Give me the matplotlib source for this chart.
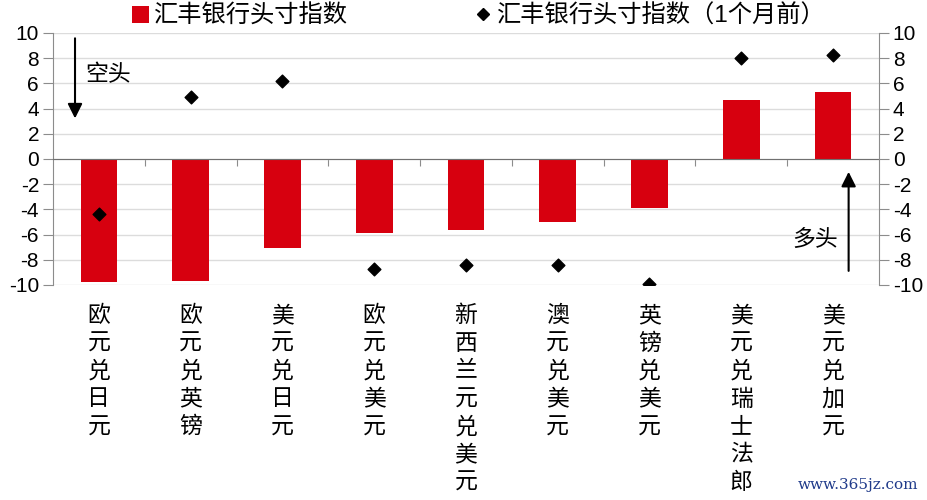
import matplotlib
matplotlib.use("Agg")
import matplotlib.pyplot as plt
from matplotlib.lines import Line2D
from matplotlib.patches import Patch

plt.rcParams['font.family'] = ['Liberation Sans', 'Noto Sans CJK SC', 'DejaVu Sans']

# data
pairs = ['欧元兑日元', '欧元兑英镑', '美元兑日元', '欧元兑美元', '新西兰元兑美元',
         '澳元兑美元', '英镑兑美元', '美元兑瑞士法郎', '美元兑加元']
index_now = [-9.8, -9.7, -7.1, -5.9, -5.6, -5.0, -3.9, 4.7, 5.3]
index_1m = [-4.4, 4.9, 6.2, -8.7, -8.4, -8.4, -9.9, 8.0, 8.25]
yticks = list(range(-10, 11, 2))

red = '#D7000F'
grey = '#8c8c8c'

fig = plt.figure(figsize=(9.28, 5.0), dpi=100)
ax = fig.add_axes([0.0571, 0.43, 0.89, 0.504])

x = list(range(len(pairs)))
ax.bar(x, index_now, width=0.4, color=red, zorder=2)
ax.scatter(x, index_1m, marker='D', s=42, color='black', zorder=3)

ax.set_xlim(-0.5, len(pairs) - 0.5)
ax.set_ylim(-10, 10)
ax.set_yticks(yticks)
ax.set_yticklabels([str(v) for v in yticks], fontsize=15)
ax.grid(axis='y', color='#dcdcdc', linewidth=1.0, zorder=0)
ax.set_axisbelow(True)

for s in ['top', 'right']:
    ax.spines[s].set_visible(False)
ax.spines['left'].set_color(grey)
ax.spines['bottom'].set_position(('data', 0))
ax.spines['bottom'].set_color('#707070')
ax.spines['bottom'].set_zorder(2.5)
ax.tick_params(axis='y', colors=grey, length=7, pad=3, labelcolor='black')
ax.set_xticks([k + 0.5 for k in x[:-1]])
ax.set_xticklabels([])
ax.tick_params(axis='x', colors=grey, length=5, direction='out')

ax2 = ax.twinx()
ax2.set_ylim(-10, 10)
ax2.set_yticks(yticks)
ax2.set_yticklabels([str(v) for v in yticks], fontsize=15)
for s in ['top', 'left', 'bottom']:
    ax2.spines[s].set_visible(False)
ax2.spines['right'].set_color(grey)
ax2.tick_params(axis='y', colors=grey, length=7, pad=3, labelcolor='black')

# vertical category labels
for k, name in enumerate(pairs):
    ax.text(k, -0.075, '\n'.join(name), transform=ax.get_xaxis_transform(),
            ha='center', va='top', fontsize=16.5, linespacing=1.27)

# arrows
ax.annotate('', xy=(-0.26, 3.0), xytext=(-0.26, 9.8),
            arrowprops=dict(arrowstyle='-|>', color='black', lw=1.5, mutation_scale=22))
ax.text(-0.15, 6.7, '空头', fontsize=16.5, va='center', ha='left')
ax.annotate('', xy=(8.17, -0.8), xytext=(8.17, -9.1),
            arrowprops=dict(arrowstyle='-|>', color='black', lw=1.5, mutation_scale=22))
ax.text(8.05, -6.35, '多头', fontsize=16.5, va='center', ha='right')

handles = [Patch(facecolor=red, edgecolor='none'),
           Line2D([], [], marker='D', color='black', linestyle='none', markersize=6)]
fig.legend(handles, ['汇丰银行头寸指数', '汇丰银行头寸指数（1个月前）'],
           loc='upper center', bbox_to_anchor=(0.516, 1.035), ncol=2, frameon=False,
           fontsize=17.5, handlelength=0.7, handleheight=0.7, handletextpad=0.2,
           columnspacing=5.2)

fig.text(0.99, 0.03, 'www.365jz.com', ha='right', va='center', fontsize=11,
         color='#1f3a8a', family='DejaVu Serif')

fig.savefig('out.png', dpi=100)
